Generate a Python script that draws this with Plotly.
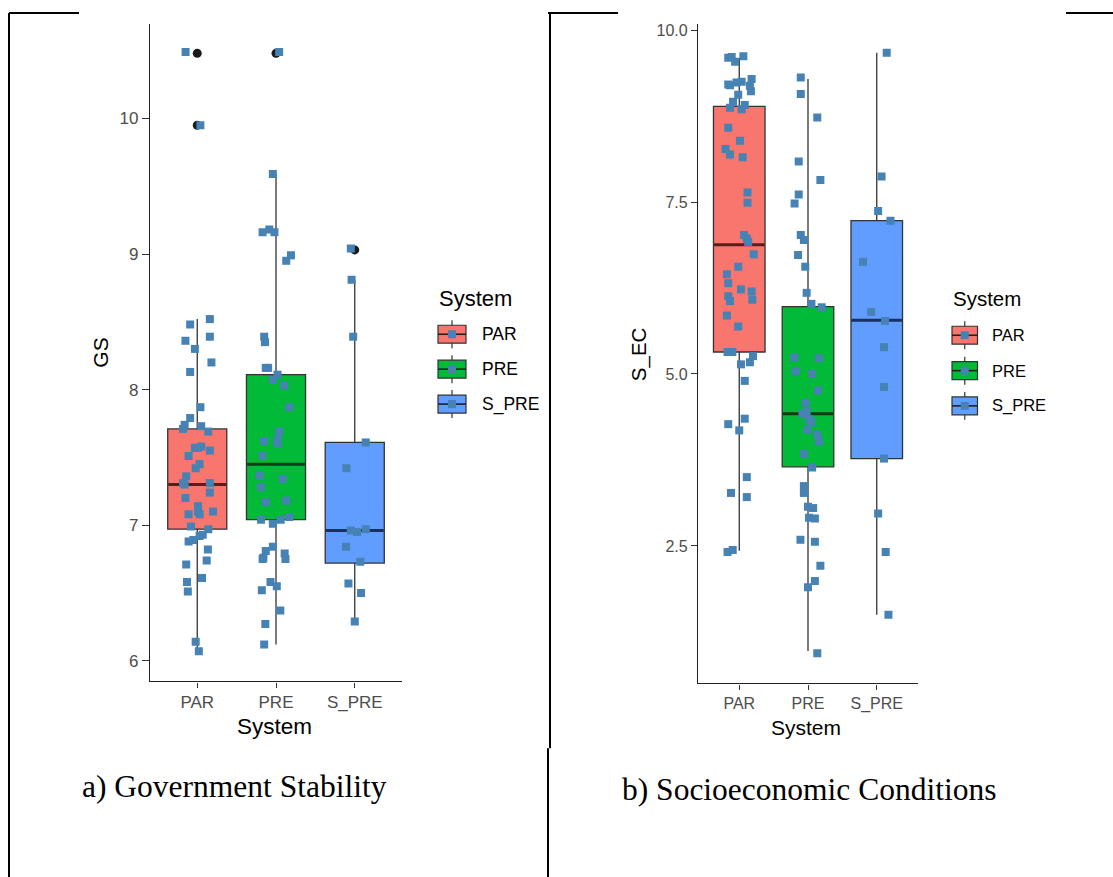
import plotly.graph_objects as go

W, H = 1113, 877

categories = ["PAR", "PRE", "S_PRE"]
fills = ["#F8766D", "#00BA38", "#619CFF"]
median_colors = ["#5a1e18", "#143a18", "#1a3060"]

# ---------------- Panel a) GS ----------------
gs_q1 = [6.97, 7.04, 6.72]
gs_median = [7.30, 7.45, 6.96]
gs_q3 = [7.71, 8.11, 7.61]
gs_lower = [6.07, 6.12, 6.29]
gs_upper = [8.52, 9.59, 8.81]
gs_outliers = [[10.48, 9.95], [10.48], [9.03]]

gs_par = [10.49, 8.48, 8.52, 8.36, 8.39, 8.30, 8.20, 8.13, 7.87, 7.79,
          7.74, 7.71, 7.73, 7.69, 7.58, 7.57, 7.57, 7.55, 7.51, 7.45,
          7.42, 7.36, 7.31, 7.30, 7.31, 7.24, 7.20, 7.14, 7.10, 7.08,
          7.08, 7.10, 6.99, 6.97, 6.93, 6.92, 6.88, 6.89, 6.82, 6.74,
          6.71, 6.61, 6.58, 6.51, 6.14, 6.07, 9.95]
gs_par_jit = [-0.148, -0.09, 0.16, -0.15, 0.16, -0.03, 0.18, -0.09, 0.04, -0.09,
              -0.16, -0.18, 0.05, 0.14, 0.05, 0.01, -0.03, 0.16, -0.11, 0.03,
              -0.02, -0.14, -0.18, -0.16, 0.16, 0.16, -0.15, 0.01, 0.01, 0.03,
              -0.11, 0.20, -0.08, 0.14, 0.07, 0.03, -0.11, -0.05, 0.135, 0.12,
              -0.14, 0.06, -0.13, -0.12, -0.02, 0.02, 0.04]
gs_pre = [10.49, 9.59, 9.16, 9.18, 9.16, 8.99, 8.95, 8.39, 8.35, 8.16,
          8.16, 8.11, 8.07, 8.03, 7.87, 7.69, 7.63, 7.62, 7.60, 7.51,
          7.37, 7.34, 7.28, 7.17, 7.18, 7.04, 7.04, 7.06, 7.01, 6.84,
          6.81, 6.76, 6.75, 6.79, 6.75, 6.58, 6.55, 6.52, 6.37, 6.27, 6.12]
gs_pre_jit = [0.04, -0.04, -0.17, -0.085, -0.02, 0.19, 0.13, -0.15, -0.14, -0.13,
              -0.10, 0.02, -0.04, 0.105, 0.17, 0.04, 0.02, -0.15, 0.02, -0.17,
              -0.21, 0.085, -0.19, -0.13, 0.13, -0.19, 0.06, 0.17, -0.04, -0.04,
              -0.13, -0.16, -0.17, 0.11, 0.12, -0.07, 0.01, -0.18, 0.055, -0.135, -0.15]
gs_spre = [9.04, 8.81, 8.39, 7.61, 7.42, 6.96, 6.95, 6.97, 6.84, 6.73, 6.57, 6.50, 6.29]
gs_spre_jit = [-0.05, -0.04, -0.02, 0.14, -0.105, -0.05, 0.03, 0.14, -0.11, 0.07, -0.08, 0.08, 0.0]

# ---------------- Panel b) S_EC ----------------
sec_q1 = [5.32, 3.65, 3.77]
sec_median = [6.88, 4.42, 5.78]
sec_q3 = [8.89, 5.98, 7.23]
sec_lower = [2.43, 0.97, 1.50]
sec_upper = [9.60, 9.29, 9.67]
sec_outliers = [[], [], []]

sec_par = [9.60, 9.61, 9.54, 9.62, 9.20, 9.21, 9.24, 9.25, 9.29, 9.19,
           9.11, 9.06, 8.96, 8.87, 8.91, 8.85, 8.58, 8.39, 8.27, 8.19,
           8.15, 7.64, 7.49, 7.02, 6.97, 6.92, 6.74, 6.56, 6.45, 6.32,
           6.23, 6.20, 6.08, 6.13, 6.06, 5.85, 5.69, 5.32, 5.32, 5.26,
           5.17, 5.14, 4.90, 4.35, 4.27, 4.18, 3.50, 3.27, 3.21, 2.41, 2.44]
sec_par_jit = [-0.16, -0.11, -0.06, 0.06, -0.135, -0.16, -0.04, 0.035, 0.18, 0.155,
               0.17, -0.015, -0.09, -0.135, 0.08, 0.035, -0.16, 0.01, -0.2, -0.135,
               0.05, 0.12, 0.12, 0.07, 0.11, 0.13, 0.21, -0.015, -0.18, -0.16,
               0.025, 0.18, 0.19, -0.16, -0.135, -0.18, -0.015, -0.17, -0.10, 0.2,
               0.155, 0.025, 0.08, 0.08, -0.16, 0.0, 0.11, -0.12, 0.11, -0.17, -0.095]
sec_pre = [9.31, 9.07, 8.73, 8.09, 7.82, 7.61, 7.48, 7.02, 6.95, 6.73,
           6.56, 6.18, 6.02, 5.97, 5.24, 5.23, 5.04, 5.00, 4.76, 4.58,
           4.45, 4.42, 4.34, 4.30, 4.19, 4.12, 4.02, 3.84, 3.64, 3.37,
           3.27, 3.07, 3.05, 2.91, 2.90, 2.59, 2.56, 2.21, 1.99, 1.90, 0.94]
sec_pre_jit = [-0.105, -0.105, 0.135, -0.135, 0.18, -0.135, -0.195, -0.105, -0.06, -0.145,
               -0.04, -0.02, 0.05, 0.2, -0.2, 0.16, -0.18, 0.06, 0.145, -0.035,
               -0.02, -0.08, 0.015, 0.05, -0.01, 0.135, 0.16, -0.06, 0.06, -0.06,
               -0.06, 0.0, 0.075, 0.015, 0.1, -0.11, 0.1, 0.18, 0.1, 0.0, 0.135]
sec_spre = [9.67, 7.87, 7.37, 7.23, 6.63, 5.90, 5.77, 5.39, 4.81, 3.77, 2.97, 2.41, 1.50]
sec_spre_jit = [0.145, 0.07, 0.02, 0.2, -0.2, -0.08, 0.12, 0.105, 0.105, 0.105, 0.02, 0.13, 0.17]

gs_ticks = [6, 7, 8, 9, 10]
gs_ticktext = ["6", "7", "8", "9", "10"]
sec_ticks = [2.5, 5.0, 7.5, 10.0]
sec_ticktext = ["2.5", "5.0", "7.5", "10.0"]

BOX_W = 0.75
JIT_COLOR = "#4682B4"
SANS = "Liberation Sans, Arial, sans-serif"
SERIF = "Liberation Serif, Times New Roman, serif"


def X(px):
    return px / W


def Y(py):
    return 1 - py / H


fig = go.Figure()


def add_panel(xa, ya, q1, med, q3, lo, up, outl, pts, jits):
    for i, cat in enumerate(categories):
        fig.add_trace(go.Box(
            x=[i + 1], q1=[q1[i]], median=[med[i]], q3=[q3[i]],
            lowerfence=[lo[i]], upperfence=[up[i]],
            width=BOX_W, fillcolor=fills[i],
            line=dict(color="#333333", width=1.3), whiskerwidth=0,
            boxpoints=False, showlegend=False, xaxis=xa, yaxis=ya,
            hoverinfo="skip"))
    for i, cat in enumerate(categories):
        c = i + 1
        fig.add_trace(go.Scatter(
            x=[c - BOX_W / 2 + 0.01, c + BOX_W / 2 - 0.01], y=[med[i], med[i]],
            mode="lines", line=dict(color=median_colors[i], width=3),
            showlegend=False, xaxis=xa, yaxis=ya, hoverinfo="skip"))
    for i, cat in enumerate(categories):
        if outl[i]:
            fig.add_trace(go.Scatter(
                x=[i + 1] * len(outl[i]), y=outl[i], mode="markers",
                marker=dict(symbol="circle", size=9, color="#1a1a1a"),
                showlegend=False, xaxis=xa, yaxis=ya))
    for i, cat in enumerate(categories):
        fig.add_trace(go.Scatter(
            x=[i + 1 + d for d in jits[i]], y=pts[i], mode="markers",
            marker=dict(symbol="square", size=8, color=JIT_COLOR),
            showlegend=False, xaxis=xa, yaxis=ya, name=cat))


add_panel("x", "y", gs_q1, gs_median, gs_q3, gs_lower, gs_upper, gs_outliers,
          [gs_par, gs_pre, gs_spre], [gs_par_jit, gs_pre_jit, gs_spre_jit])
add_panel("x2", "y2", sec_q1, sec_median, sec_q3, sec_lower, sec_upper, sec_outliers,
          [sec_par, sec_pre, sec_spre], [sec_par_jit, sec_pre_jit, sec_spre_jit])

axis_common = dict(showline=True, linecolor="#222222", linewidth=1.3,
                   ticks="outside", tickwidth=1.2, tickcolor="#333333",
                   showgrid=False, zeroline=False, fixedrange=True)

fig.update_layout(
    width=W, height=H, margin=dict(l=0, r=0, t=0, b=0),
    paper_bgcolor="white", plot_bgcolor="white",
    showlegend=False, boxmode="overlay",
    xaxis=dict(domain=[X(150), X(402)], range=[0.4, 3.6], anchor="y",
               tickvals=[1, 2, 3], ticktext=categories, ticklen=5,
               tickfont=dict(family=SANS, size=17, color="#4D4D4D"), **axis_common),
    yaxis=dict(domain=[Y(681), Y(22)], range=[5.847, 10.697], anchor="x",
               tickvals=gs_ticks, ticktext=gs_ticktext, ticklen=7,
               tickfont=dict(family=SANS, size=17, color="#4D4D4D"), **axis_common),
    xaxis2=dict(domain=[X(698), X(918)], range=[0.4, 3.6], anchor="y2",
                tickvals=[1, 2, 3], ticktext=categories, ticklen=5,
                tickfont=dict(family=SANS, size=16, color="#4D4D4D"), **axis_common),
    yaxis2=dict(domain=[Y(683), Y(22)], range=[0.50, 10.09], anchor="x2",
                tickvals=sec_ticks, ticktext=sec_ticktext, ticklen=6,
                tickfont=dict(family=SANS, size=16, color="#4D4D4D"), **axis_common),
)

ann = []
shapes = []


def text(x, y, s, size, family=SANS, color="black", xanchor="center", angle=0):
    ann.append(dict(x=X(x), y=Y(y), xref="paper", yref="paper", text=s,
                    showarrow=False, xanchor=xanchor, yanchor="middle",
                    textangle=angle, font=dict(family=family, size=size, color=color)))


# axis titles
text(100.5, 352, "GS", 21, angle=-90)
text(274, 726, "System", 22.5)
text(638.5, 353.5, "S_EC", 20.5, angle=-90)
text(806, 727, "System", 21)

# captions
text(80, 786, "a) Government Stability", 31.5, family=SERIF, xanchor="left")
text(619.6, 789, "b) Socioeconomic Conditions", 31.5, family=SERIF, xanchor="left")


def legend(x0, kw, title_y, key_ys, label_x, fsize_t, fsize_l):
    text(x0 - 1, title_y, "System", fsize_t, xanchor="left")
    for i, cat in enumerate(categories):
        cy = key_ys[i]
        kh = 18
        shapes.append(dict(type="line", xref="paper", yref="paper",
                           x0=X(x0 + kw / 2), x1=X(x0 + kw / 2),
                           y0=Y(cy - kh / 2 - 5), y1=Y(cy + kh / 2 + 5),
                           line=dict(color="#333333", width=1.2)))
        shapes.append(dict(type="rect", xref="paper", yref="paper",
                           x0=X(x0), x1=X(x0 + kw), y0=Y(cy + kh / 2), y1=Y(cy - kh / 2),
                           fillcolor=fills[i], line=dict(color="#333333", width=1.2)))
        shapes.append(dict(type="line", xref="paper", yref="paper",
                           x0=X(x0), x1=X(x0 + kw), y0=Y(cy), y1=Y(cy),
                           line=dict(color="#222222", width=1.6)))
        shapes.append(dict(type="rect", xref="paper", yref="paper",
                           x0=X(x0 + kw / 2 - 4), x1=X(x0 + kw / 2 + 4),
                           y0=Y(cy + 4), y1=Y(cy - 4),
                           fillcolor=JIT_COLOR, line=dict(width=0)))
        text(label_x, cy, cat, fsize_l, xanchor="left")


legend(438, 28, 296.7, [333, 368, 403], 480, 22, 17.5)
legend(952, 25.5, 297, [334, 369.5, 404.8], 990, 20.5, 16.5)


def bline(x0, y0, x1, y1):
    shapes.append(dict(type="line", xref="paper", yref="paper",
                       x0=X(x0), y0=Y(y0), x1=X(x1), y1=Y(y1),
                       line=dict(color="black", width=2)))


bline(9, 11, 9, 877)
bline(9, 11, 79, 11)
bline(548, 11, 618, 11)
bline(1066, 11, 1113, 11)
bline(550, 11, 550, 748)
bline(548, 748, 548, 877)

fig.update_layout(annotations=ann, shapes=shapes)

fig.write_html("out.html")
